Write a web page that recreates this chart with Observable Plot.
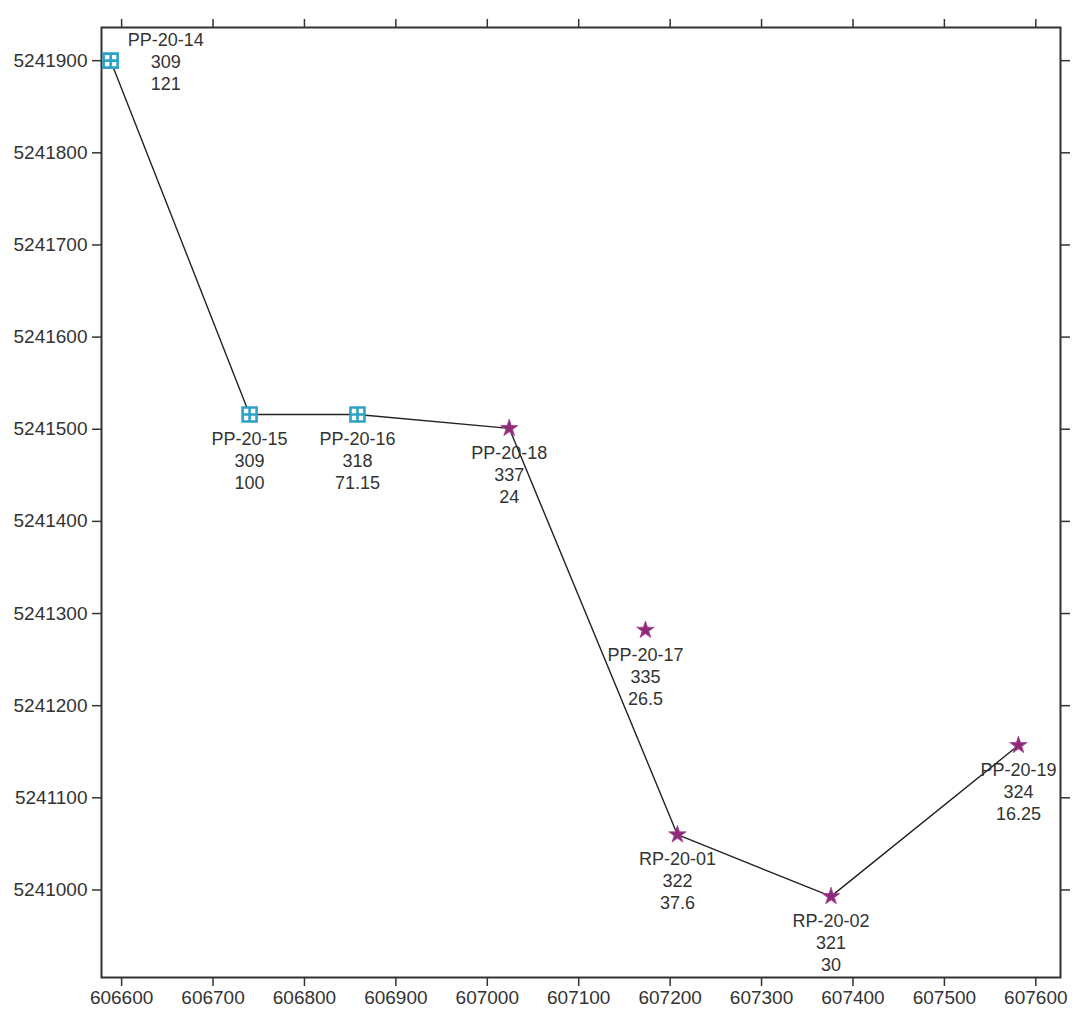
<!DOCTYPE html>
<html>
<head>
<meta charset="utf-8">
<script src="https://cdn.jsdelivr.net/npm/d3@7"></script>
<script src="https://cdn.jsdelivr.net/npm/@observablehq/plot@0.6"></script>
<style>
  html, body { margin: 0; padding: 0; background: #fff; }
  #chart { width: 1072px; height: 1014px; }
</style>
</head>
<body>
<div id="chart"></div>
<script>
// Sample points
const names = ["PP-20-14", "PP-20-15", "PP-20-16", "PP-20-18", "PP-20-17", "RP-20-01", "RP-20-02", "PP-20-19"];
const eastings = [606588, 606740, 606858, 607024, 607173, 607208, 607376, 607581];
const northings = [5241900, 5241516, 5241516, 5241501, 5241282, 5241060, 5240993, 5241157];
const values1 = ["309", "309", "318", "337", "335", "322", "321", "324"];
const values2 = ["121", "100", "71.15", "24", "26.5", "37.6", "30", "16.25"];
const kinds = ["square", "square", "square", "star", "star", "star", "star", "star"];
// Order of points joined by the line
const pathOrder = ["PP-20-14", "PP-20-15", "PP-20-16", "PP-20-18", "RP-20-01", "RP-20-02", "PP-20-19"];
// Axis ticks
const xTicks = [606600, 606700, 606800, 606900, 607000, 607100, 607200, 607300, 607400, 607500, 607600];
const yTicks = [5241000, 5241100, 5241200, 5241300, 5241400, 5241500, 5241600, 5241700, 5241800, 5241900];

const pts = names.map((n, i) => ({
  name: n, x: eastings[i], y: northings[i], v1: values1[i], v2: values2[i], kind: kinds[i],
  label: `${n}\n${values1[i]}\n${values2[i]}`
}));
const byName = new Map(pts.map(d => [d.name, d]));
const path = pathOrder.map(n => byName.get(n));

const squareCross = {
  draw(ctx, size) {
    const h = 7;
    ctx.moveTo(-h, -h); ctx.lineTo(h, -h); ctx.lineTo(h, h); ctx.lineTo(-h, h); ctx.closePath();
    ctx.moveTo(0, -h); ctx.lineTo(0, h);
    ctx.moveTo(-h, 0); ctx.lineTo(h, 0);
  }
};

const font = "Liberation Sans, Arial, sans-serif";
const fmt = d => String(d);

const chart = Plot.plot({
  width: 1072,
  height: 1014,
  marginLeft: 101,
  marginRight: 12,
  marginTop: 27,
  marginBottom: 37,
  style: { fontFamily: font, background: "#fff", color: "#333" },
  x: { domain: [606578, 607627] },
  y: { domain: [5240905, 5241936] },
  marks: [
    Plot.axisX({ anchor: "bottom", ticks: xTicks, tickFormat: fmt, tickSize: 9, tickPadding: 4, fontSize: 19, label: null, stroke: "#333", strokeWidth: 1.5, fill: "#333" }),
    Plot.axisX({ anchor: "top", ticks: xTicks, tickFormat: () => "", tickSize: 9, label: null, stroke: "#333", strokeWidth: 1.5 }),
    Plot.axisY({ anchor: "left", ticks: yTicks, tickFormat: fmt, tickSize: 9, tickPadding: 5, fontSize: 19, label: null, stroke: "#333", strokeWidth: 1.5, fill: "#333" }),
    Plot.axisY({ anchor: "right", ticks: yTicks, tickFormat: () => "", tickSize: 9, label: null, stroke: "#333", strokeWidth: 1.5 }),
    Plot.frame({ stroke: "#333", strokeWidth: 2 }),
    Plot.line(path, { x: "x", y: "y", stroke: "#222", strokeWidth: 1.4 }),
    Plot.dot(pts.filter(d => d.kind === "square"), { x: "x", y: "y", symbol: squareCross, r: 7, stroke: "#2ba3c6", strokeWidth: 2.6, fill: "#ffffff" }),
    Plot.dot(pts.filter(d => d.kind === "star"), { x: "x", y: "y", symbol: "star", r: 5.5, fill: "#8e2a78", stroke: "#a8449a", strokeWidth: 0.8 }),
    Plot.text(pts.filter(d => d.name !== "PP-20-14"), { x: "x", y: "y", text: "label", lineAnchor: "top", dy: 15, lineHeight: 1.22, fontSize: 18, fill: "#333", textAnchor: "middle" }),
    Plot.text(pts.filter(d => d.name === "PP-20-14"), { x: "x", y: "y", text: "label", lineAnchor: "middle", dx: 55, dy: 0, lineHeight: 1.22, fontSize: 18, fill: "#333", textAnchor: "middle" })
  ]
});
document.getElementById("chart").appendChild(chart);
</script>
</body>
</html>
